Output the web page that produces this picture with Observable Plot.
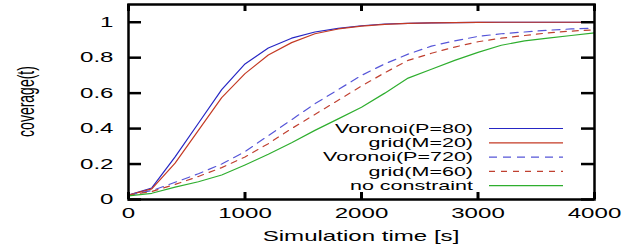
<!DOCTYPE html>
<html>
<head>
<meta charset="utf-8">
<script src="https://cdn.jsdelivr.net/npm/d3@7"></script>
<script src="https://cdn.jsdelivr.net/npm/@observablehq/plot@0.6"></script>
<style>
  body { margin: 0; background: #fff; }
  svg { font-family: "Liberation Sans", Arial, sans-serif; }
</style>
</head>
<body>
<div id="chart"></div>
<script>
const times = [0,200,400,600,800,1000,1200,1400,1600,1800,2000,2200,2400,2600,2800,3000,3200,3400,3600,3800,4000];
const voronoi80  = [0.025,0.065,0.24,0.43,0.62,0.765,0.855,0.91,0.945,0.965,0.98,0.99,0.993,0.996,0.998,0.999,1.0,1.0,1.0,1.0,1.0];
const grid20     = [0.025,0.06,0.205,0.39,0.575,0.71,0.815,0.885,0.935,0.962,0.978,0.988,0.993,0.996,0.998,0.999,1.0,1.0,1.0,1.0,1.0];
const voronoi720 = [0.025,0.05,0.097,0.145,0.2,0.27,0.36,0.45,0.54,0.62,0.70,0.765,0.82,0.865,0.895,0.92,0.935,0.945,0.955,0.962,0.967];
const grid60     = [0.025,0.045,0.085,0.13,0.18,0.24,0.315,0.40,0.48,0.56,0.64,0.715,0.785,0.825,0.86,0.89,0.91,0.925,0.94,0.95,0.957];
const noConstraint = [0.02,0.035,0.07,0.10,0.138,0.195,0.255,0.32,0.39,0.455,0.52,0.60,0.685,0.735,0.785,0.83,0.87,0.895,0.91,0.925,0.94];

const seriesNames = ["Voronoi(P=80)","grid(M=20)","Voronoi(P=720)","grid(M=60)","no constraint"];
const seriesValues = [voronoi80, grid20, voronoi720, grid60, noConstraint];
const seriesColors = ["#2626c4","#c43a24","#5656d8","#c04030","#2eae2e"];
const seriesDash = [null, null, "8,6", "6,6", null];

const xTicks = [0,1000,2000,3000,4000];
const yTicks = [0,0.2,0.4,0.6,0.8,1];

const rows = [];
seriesNames.forEach((name, s) => {
  times.forEach((t, i) => rows.push({series: name, t, v: seriesValues[s][i]}));
});

const W = 635, H = 250;
const mL = 128, mR = 41, mT = 4, mB = 51;
const innerW = W - mL - mR, innerH = H - mT - mB;
const SX = 1.72;

const lineMarks = seriesNames.map((name, s) =>
  Plot.line(rows.filter(r => r.series === name), {
    x: "t", y: "v", stroke: seriesColors[s], strokeWidth: 1.2,
    strokeDasharray: seriesDash[s] || undefined
  })
);

const plot = Plot.plot({
  width: W, height: H,
  marginLeft: mL, marginRight: mR, marginTop: mT, marginBottom: mB,
  style: {fontFamily: "Liberation Sans, Arial, sans-serif", fontSize: "14px", color: "#000", background: "#fff"},
  x: {domain: [0, 4000], ticks: xTicks, tickSize: 0, tickPadding: 9, tickFormat: d => String(d), label: null},
  y: {domain: [0, 1.1], ticks: yTicks, tickSize: 0, tickPadding: 15, tickFormat: d => String(d), label: null},
  marks: [
    ...lineMarks,
    Plot.tickX(xTicks, {x: d => d, insetTop: innerH - 7, stroke: "#000", strokeWidth: 3}),
    Plot.tickX(xTicks, {x: d => d, insetBottom: innerH - 7, stroke: "#000", strokeWidth: 3}),
    Plot.tickY(yTicks, {y: d => d, insetRight: innerW - 13, stroke: "#000", strokeWidth: 2.5}),
    Plot.tickY(yTicks, {y: d => d, insetLeft: innerW - 13, stroke: "#000", strokeWidth: 2.5}),
    Plot.frame({stroke: "#000", strokeWidth: 2.5})
  ]
});

const svg = d3.select(plot);

// axis titles
svg.append("text")
  .attr("text-anchor", "middle")
  .attr("transform", `translate(${mL + innerW / 2},${241}) scale(${SX},1)`)
  .attr("font-size", 14)
  .attr("fill", "#000")
  .text("Simulation time [s]");
svg.append("text")
  .attr("text-anchor", "middle")
  .attr("transform", `translate(${34},${mT + innerH / 2}) rotate(-90) scale(1,${SX})`)
  .attr("font-size", 14)
  .attr("fill", "#000")
  .text("coverage(t)");

// stretch tick labels horizontally (wide Helvetica look)
svg.selectAll("g[aria-label='x-axis tick label'] text, g[aria-label='y-axis tick label'] text").each(function() {
  const tr = this.getAttribute("transform") || "";
  this.setAttribute("transform", tr + ` scale(${SX},1)`);
});

// legend
const leg = svg.append("g").attr("font-size", 12.5);
seriesNames.forEach((name, s) => {
  const yy = 128.5 + s * 14.3;
  leg.append("text")
    .attr("text-anchor", "end")
    .attr("dy", "0.35em")
    .attr("fill", "#000")
    .attr("transform", `translate(473,${yy}) scale(${SX},1)`)
    .text(name);
  leg.append("line")
    .attr("x1", 489).attr("x2", 563).attr("y1", yy).attr("y2", yy)
    .attr("stroke", seriesColors[s]).attr("stroke-width", 1.2)
    .attr("stroke-dasharray", seriesDash[s]);
});

document.getElementById("chart").appendChild(plot);
</script>
</body>
</html>
